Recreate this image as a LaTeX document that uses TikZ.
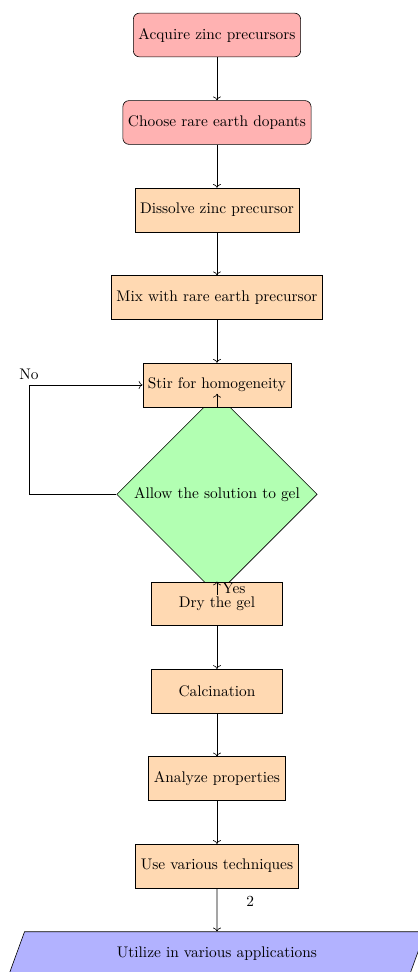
\documentclass[tikz,border=0pt]{standalone}
\usepackage{tikz}
\usetikzlibrary{shapes.geometric,arrows.meta}
\usepackage{xcolor}

\begin{document}
\begin{tikzpicture}[
  term/.style={rectangle,rounded corners,minimum width=3cm,minimum height=1cm,
               align=center,draw=black,fill=red!30},
  proc/.style={rectangle,minimum width=3cm,minimum height=1cm,
               align=center,draw=black,fill=orange!30},
  dec/.style={diamond,align=center,draw=black,fill=green!30},
  io/.style={trapezium,trapezium left angle=70,trapezium right angle=110,
             minimum width=3cm,minimum height=1cm,align=center,
             draw=black,fill=blue!30},
]
\useasboundingbox (-4.96,0.8) rectangle (4.59,-21.42);
% gel check first, so the boxes above and below sit on top of it
\node[dec] (gel) at (0,-10.5) {Allow the solution to gel};
% raw materials
\node[term] (acq) at (0,0) {Acquire zinc precursors};
\node[term] (choose) at (0,-2) {Choose rare earth dopants};
% sol preparation
\node[proc] (diss) at (0,-4) {Dissolve zinc precursor};
\node[proc] (mix) at (0,-6) {Mix with rare earth precursor};
\node[proc] (stir) at (0,-8) {Stir for homogeneity};
% drying and firing
\node[proc] (dry) at (0,-13) {Dry the gel};
\node[proc] (calc) at (0,-15) {Calcination};
\node[proc] (props) at (0,-17) {Analyze properties};
\node[proc] (tech) at (0,-19) {Use various techniques};
\node[io] (apps) at (0,-21) {Utilize in various applications};

\draw[->] (acq) -- (choose);
\draw[->] (choose) -- (diss);
\draw[->] (diss) -- (mix);
\draw[->] (mix) -- (stir);
\draw[->] (stir) -- (gel);
\draw[->] (gel) -- node[right]{Yes} (dry);
\draw[->] (gel.west) -- ++(-2,0) |- node[above]{No} (stir.west);
\draw[->] (dry) -- (calc);
\draw[->] (calc) -- (props);
\draw[->] (props) -- (tech);
\draw[->] (tech) -- node[right,xshift=0.55cm,yshift=0.2cm]{2} (apps);
\end{tikzpicture}
\end{document}
